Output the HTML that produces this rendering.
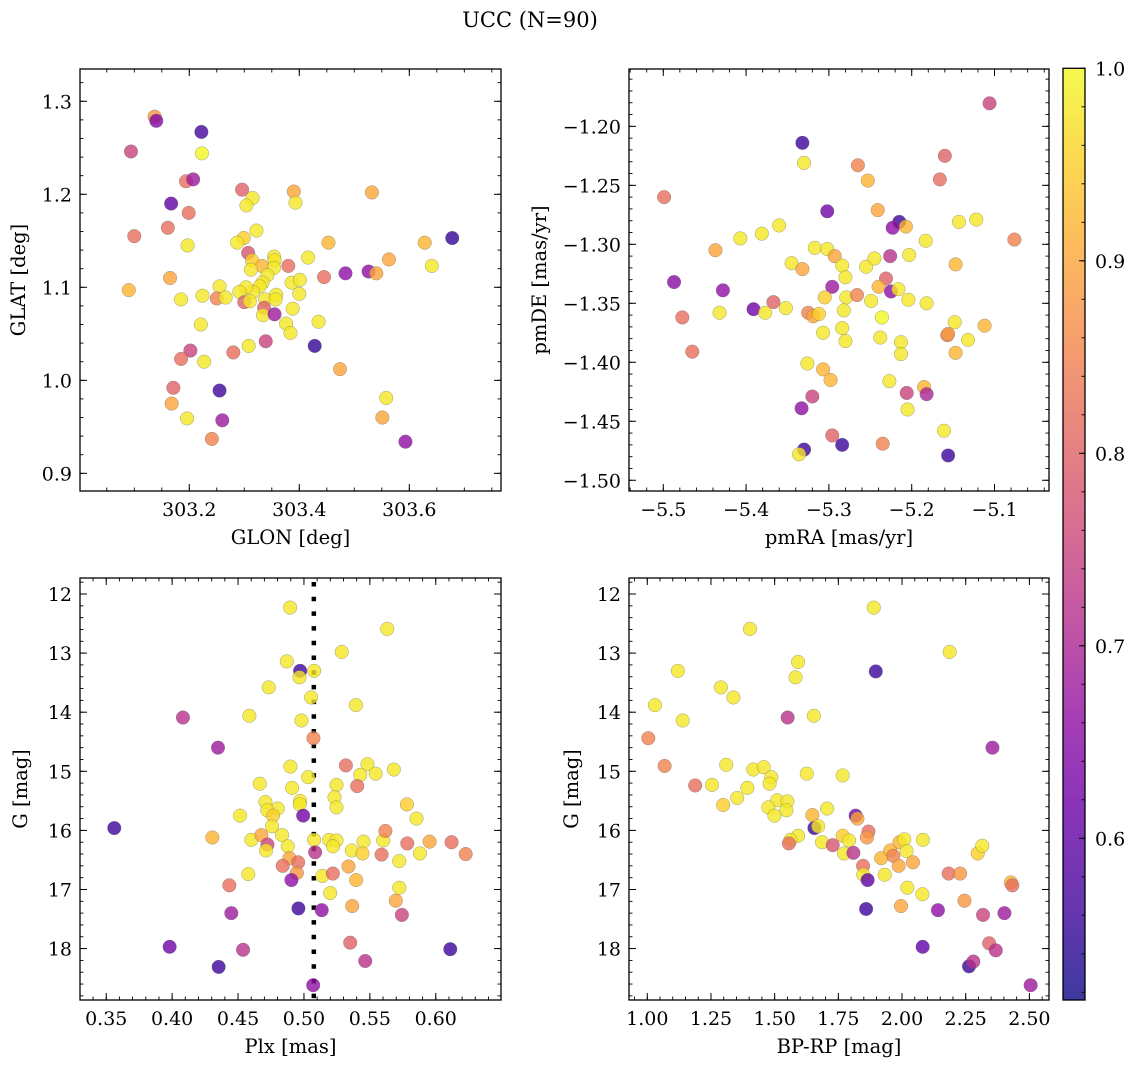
<!DOCTYPE html>
<html><head><meta charset="utf-8"><style>
html,body{margin:0;padding:0;background:#fff;}
svg{display:block;font-family:"DejaVu Serif","Liberation Serif",serif;}
</style></head><body>
<svg id="fig" width="1136" height="1068" viewBox="0 0 1136 1068" xmlns="http://www.w3.org/2000/svg">
<defs>
<linearGradient id="plasmaGrad" x1="0" y1="1" x2="0" y2="0"></linearGradient>
</defs>
<text x="530" y="27" font-size="21" text-anchor="middle">UCC (N=90)</text>
</svg>
<script>
// ---------- Panel 1 data: GLON vs GLAT ----------
const p1Glon=[303.137,303.140,303.094,303.222,303.223,303.194,303.207,303.167,303.199,303.161,
303.100,303.197,303.296,303.315,303.304,303.322,303.299,303.287,303.307,303.314,
303.332,303.312,303.354,303.355,303.354,303.342,303.333,303.328,303.316,303.303,
303.291,303.300,303.310,303.338,303.358,303.357,303.336,303.334,303.355,303.380,
303.416,303.386,303.401,303.400,303.388,303.376,303.384,303.435,303.390,303.393,
303.453,303.445,303.484,303.526,303.540,303.563,303.532,303.628,303.641,303.678,
303.428,303.474,303.558,303.551,303.593,303.090,303.165,303.185,303.224,303.255,
303.250,303.266,303.221,303.308,303.339,303.280,303.227,303.202,303.185,303.171,
303.168,303.196,303.255,303.260,303.241];
const p1Glat=[1.2835,1.279,1.246,1.267,1.244,1.214,1.216,1.190,1.180,1.164,
1.155,1.145,1.205,1.196,1.188,1.161,1.153,1.148,1.137,1.129,
1.123,1.119,1.133,1.129,1.121,1.113,1.105,1.101,1.095,1.100,
1.095,1.084,1.085,1.087,1.092,1.087,1.078,1.070,1.071,1.123,
1.132,1.105,1.108,1.093,1.077,1.061,1.051,1.063,1.203,1.191,
1.148,1.111,1.115,1.117,1.115,1.130,1.202,1.148,1.123,1.153,
1.037,1.012,0.981,0.960,0.934,1.097,1.110,1.087,1.091,1.101,
1.088,1.089,1.060,1.037,1.042,1.030,1.020,1.032,1.023,0.992,
0.975,0.959,0.989,0.957,0.937];
const p1Prob=[0.88,0.64,0.75,0.57,1.0,0.82,0.68,0.6,0.82,0.82,
0.82,0.98,0.8,0.98,0.98,0.98,0.95,0.98,0.78,0.95,
0.92,0.98,0.98,0.98,0.98,0.98,0.98,0.98,0.98,0.98,
0.98,0.8,0.98,0.98,0.98,0.98,0.8,0.98,0.68,0.82,
0.98,0.98,0.98,0.98,0.98,0.98,0.98,0.98,0.9,0.98,
0.92,0.82,0.66,0.66,0.9,0.9,0.9,0.92,0.98,0.55,
0.55,0.9,0.98,0.9,0.66,0.92,0.9,0.98,0.98,0.98,
0.85,0.98,0.98,0.98,0.75,0.82,0.98,0.75,0.82,0.8,
0.9,0.98,0.56,0.68,0.85];

// ---------- Panel 2 data: pmRA vs pmDE ----------
const p2PmRA=[-5.106,-5.332,-5.330,-5.265,-5.253,-5.160,-5.166,-5.499,-5.302,-5.241,
-5.215,-5.223,-5.207,-5.143,-5.122,-5.360,-5.381,-5.407,-5.437,-5.076,
-5.183,-5.317,-5.302,-5.293,-5.345,-5.332,-5.284,-5.280,-5.255,-5.245,
-5.226,-5.203,-5.147,-5.487,-5.428,-5.296,-5.231,-5.240,-5.225,-5.216,
-5.204,-5.182,-5.305,-5.279,-5.266,-5.249,-5.367,-5.391,-5.377,-5.352,
-5.432,-5.477,-5.325,-5.319,-5.312,-5.282,-5.236,-5.148,-5.112,-5.157,
-5.156,-5.132,-5.147,-5.307,-5.284,-5.280,-5.238,-5.213,-5.213,-5.465,
-5.326,-5.307,-5.298,-5.227,-5.185,-5.182,-5.206,-5.205,-5.320,-5.333,
-5.161,-5.296,-5.235,-5.284,-5.330,-5.336,-5.156];
const p2PmDE=[-1.1805,-1.214,-1.231,-1.233,-1.246,-1.225,-1.245,-1.260,-1.272,-1.271,
-1.281,-1.286,-1.285,-1.281,-1.279,-1.284,-1.291,-1.295,-1.305,-1.296,
-1.297,-1.303,-1.304,-1.310,-1.316,-1.321,-1.318,-1.328,-1.319,-1.312,
-1.310,-1.309,-1.317,-1.332,-1.339,-1.336,-1.329,-1.336,-1.340,-1.338,
-1.347,-1.350,-1.345,-1.345,-1.343,-1.348,-1.349,-1.355,-1.358,-1.354,
-1.358,-1.362,-1.358,-1.361,-1.359,-1.356,-1.362,-1.366,-1.369,-1.377,
-1.376,-1.381,-1.392,-1.375,-1.371,-1.382,-1.379,-1.383,-1.393,-1.391,
-1.401,-1.406,-1.415,-1.416,-1.421,-1.427,-1.426,-1.440,-1.429,-1.439,
-1.458,-1.462,-1.469,-1.470,-1.474,-1.478,-1.479];
const p2Prob=[0.75,0.56,0.98,0.85,0.92,0.8,0.82,0.82,0.62,0.9,
0.56,0.66,0.92,0.98,0.98,0.98,0.98,0.98,0.9,0.85,
0.98,0.98,0.98,0.9,0.98,0.9,0.98,0.98,0.98,0.98,
0.72,0.98,0.92,0.65,0.66,0.68,0.8,0.92,0.66,0.98,
0.98,0.98,0.95,0.98,0.85,0.98,0.8,0.62,0.98,0.98,
0.98,0.82,0.85,0.9,0.95,0.98,1.0,0.98,0.92,0.85,
0.88,0.98,0.92,0.98,0.98,0.98,0.98,0.98,0.98,0.82,
0.98,0.92,0.92,0.98,0.92,0.7,0.75,0.98,0.75,0.66,
0.98,0.8,0.85,0.56,0.56,0.98,0.56];

// ---------- Panel 3 data: Plx vs G ----------
const p3Plx=[0.4895,0.5632,0.5287,0.4870,0.4971,0.5077,0.4966,0.4733,0.5054,0.5394,
0.4586,0.4981,0.4082,0.5072,0.4348,0.4897,0.5318,0.5482,0.5427,0.5544,
0.5682,0.5032,0.4665,0.4910,0.5247,0.5404,0.5232,0.5247,0.4708,0.4801,
0.4722,0.4765,0.4971,0.4968,0.4994,0.4515,0.5781,0.5854,0.4758,0.3561,
0.4305,0.4601,0.4677,0.4834,0.4877,0.4723,0.4713,0.5077,0.5191,0.5247,
0.5220,0.5085,0.4890,0.4956,0.4839,0.4946,0.4905,0.4578,0.4434,0.5140,
0.5219,0.5338,0.5396,0.5199,0.5363,0.5452,0.5444,0.5601,0.5618,0.5589,
0.5723,0.5784,0.5880,0.5953,0.6120,0.6227,0.5723,0.5697,0.5743,0.5366,
0.4958,0.5135,0.4449,0.5351,0.5465,0.6110,0.3981,0.4538,0.4353,0.5070];
const p3G=[12.23,12.59,12.98,13.14,13.30,13.30,13.41,13.58,13.75,13.88,
14.06,14.14,14.09,14.44,14.60,14.92,14.90,14.88,15.06,15.04,
14.97,15.10,15.21,15.28,15.23,15.25,15.44,15.61,15.52,15.63,
15.66,15.75,15.50,15.56,15.75,15.75,15.56,15.80,15.93,15.96,
16.12,16.16,16.08,16.08,16.27,16.24,16.34,16.16,16.16,16.17,
16.27,16.37,16.47,16.54,16.60,16.72,16.84,16.74,16.93,16.77,
16.73,16.61,16.84,17.06,16.34,16.19,16.39,16.17,16.01,16.41,
16.52,16.22,16.39,16.19,16.20,16.40,16.97,17.19,17.43,17.28,
17.32,17.35,17.40,17.90,18.21,18.01,17.97,18.02,18.31,18.62];
const p3Prob=[0.98,0.98,0.98,0.98,0.56,0.98,0.98,0.98,0.98,0.98,
0.98,0.98,0.72,0.85,0.68,0.98,0.82,0.98,0.98,0.98,
0.98,0.98,0.98,0.98,0.98,0.82,0.98,0.98,0.98,0.98,
0.98,0.95,0.98,0.98,0.62,0.98,0.95,0.98,0.98,0.56,
0.92,0.98,0.9,0.98,0.98,0.75,0.98,0.98,0.98,0.98,
0.98,0.72,0.9,0.82,0.82,0.88,0.66,0.98,0.82,0.98,
0.82,0.9,0.92,0.98,0.98,0.98,0.95,0.98,0.85,0.82,
0.98,0.82,0.98,0.9,0.82,0.85,0.98,0.9,0.75,0.9,
0.56,0.66,0.68,0.8,0.72,0.56,0.62,0.72,0.56,0.66];
const p3Plx0=0.5075;

// ---------- Panel 4 data: BP-RP vs G ----------
const p4Col=[1.889,1.403,2.187,1.120,1.897,1.592,1.582,1.289,1.338,1.030,
1.139,1.551,1.654,1.004,2.355,1.068,1.310,1.416,1.457,1.487,
1.480,1.626,1.767,1.188,1.254,1.393,1.353,1.298,1.510,1.550,
1.475,1.546,1.499,1.706,1.648,1.656,1.671,1.818,1.825,1.592,
1.562,1.556,1.686,1.728,1.767,1.792,1.772,1.809,1.868,1.862,
1.847,1.848,1.865,1.918,1.932,1.954,1.966,1.987,1.990,2.009,
2.018,2.043,2.082,2.021,2.080,1.996,1.859,2.141,2.183,2.228,
2.245,2.318,2.402,2.297,2.315,2.427,2.433,2.081,2.342,2.368,
2.263,2.280,2.505];
const p4G=[12.23,12.59,12.98,13.30,13.31,13.15,13.41,13.58,13.75,13.88,
14.14,14.09,14.06,14.44,14.60,14.91,14.89,14.97,14.93,15.10,
15.21,15.04,15.07,15.24,15.23,15.28,15.45,15.57,15.49,15.51,
15.61,15.66,15.75,15.63,15.74,15.96,15.93,15.75,15.80,16.09,
16.16,16.22,16.20,16.25,16.09,16.17,16.39,16.38,16.02,16.12,
16.60,16.75,16.84,16.47,16.75,16.34,16.43,16.60,16.20,16.15,
16.35,16.54,16.16,16.97,17.08,17.28,17.33,17.35,16.73,16.73,
17.19,17.43,17.40,16.39,16.26,16.88,16.93,17.97,17.91,18.03,
18.30,18.22,18.62];
const p4Prob=[0.98,0.98,0.98,0.98,0.56,0.98,0.98,0.98,0.98,0.98,
0.98,0.72,0.98,0.85,0.68,0.85,0.98,0.98,0.98,0.98,
0.98,0.98,0.98,0.82,0.98,0.98,0.98,0.95,0.98,0.98,
0.98,0.98,0.98,0.98,0.92,0.56,0.98,0.62,0.9,0.98,
0.98,0.82,0.98,0.78,0.95,0.98,0.98,0.72,0.82,0.88,
0.82,0.98,0.6,0.92,0.98,0.92,0.85,0.9,0.92,0.98,
0.98,0.9,0.98,0.98,0.98,0.9,0.56,0.66,0.82,0.88,
0.88,0.75,0.68,0.95,0.98,0.92,0.82,0.6,0.8,0.72,
0.56,0.72,0.68];

// ---------- Tick labels ----------
const p1XTicks=[303.2,303.4,303.6], p1XLabels=["303.2","303.4","303.6"];
const p1YTicks=[0.9,1.0,1.1,1.2,1.3], p1YLabels=["0.9","1.0","1.1","1.2","1.3"];
const p2XTicks=[-5.5,-5.4,-5.3,-5.2,-5.1], p2XLabels=["\u22125.5","\u22125.4","\u22125.3","\u22125.2","\u22125.1"];
const p2YTicks=[-1.20,-1.25,-1.30,-1.35,-1.40,-1.45,-1.50], p2YLabels=["\u22121.20","\u22121.25","\u22121.30","\u22121.35","\u22121.40","\u22121.45","\u22121.50"];
const p3XTicks=[0.35,0.40,0.45,0.50,0.55,0.60], p3XLabels=["0.35","0.40","0.45","0.50","0.55","0.60"];
const gTicks=[12,13,14,15,16,17,18], gLabels=["12","13","14","15","16","17","18"];
const p4XTicks=[1.0,1.25,1.5,1.75,2.0,2.25,2.5], p4XLabels=["1.00","1.25","1.50","1.75","2.00","2.25","2.50"];
const cbTicks=[0.6,0.7,0.8,0.9,1.0], cbLabels=["0.6","0.7","0.8","0.9","1.0"];
const cbMin=0.516, cbMax=1.0;

const NS="http://www.w3.org/2000/svg";
const svg=document.getElementById('fig');
const TF=19, LF=19.5;
const plasma=[[13,8,135],[65,4,157],[106,0,168],[143,13,164],[177,42,144],[204,71,120],[225,100,98],[242,132,75],[252,166,54],[252,206,37],[240,249,33]];
function cmap(v){let t=(v-cbMin)/(cbMax-cbMin);t=Math.max(0,Math.min(1,t));const f=t*10;const i=Math.min(9,Math.floor(f));const r=f-i;const a=plasma[i],b=plasma[i+1];
return 'rgb('+Math.round(a[0]+(b[0]-a[0])*r)+','+Math.round(a[1]+(b[1]-a[1])*r)+','+Math.round(a[2]+(b[2]-a[2])*r)+')';}
function mk(tag,attrs,parent){const e=document.createElementNS(NS,tag);for(const k in attrs)e.setAttribute(k,attrs[k]);(parent||svg).appendChild(e);return e;}

function makePanel(cfg){
  const g=mk('g',{});
  
  
  const sx=v=>cfg.px+(v-cfg.xl)/(cfg.xr-cfg.xl)*cfg.w;
  const sy=v=>cfg.py+(v-cfg.yt)/(cfg.yb-cfg.yt)*cfg.h;
  const x1=cfg.px+cfg.w, y1=cfg.py+cfg.h;
  const lo=Math.min(cfg.xl,cfg.xr), hi=Math.max(cfg.xl,cfg.xr);
  for(let k=Math.ceil(lo/cfg.xm-1e-6);k*cfg.xm<=hi+1e-9;k++){const X=sx(k*cfg.xm);
    const t1=mk('line',{x1:X,x2:X,y1:y1,y2:y1-3.5,stroke:'#000','stroke-width':0.9},g);
    
    
    mk('line',{x1:X,x2:X,y1:cfg.py,y2:cfg.py+3.5,stroke:'#000','stroke-width':0.9},g);}
  const ylo=Math.min(cfg.yt,cfg.yb), yhi=Math.max(cfg.yt,cfg.yb);
  for(let k=Math.ceil(ylo/cfg.ym-1e-6);k*cfg.ym<=yhi+1e-9;k++){const Y=sy(k*cfg.ym);
    const t2=mk('line',{x1:cfg.px,x2:cfg.px+3.5,y1:Y,y2:Y,stroke:'#000','stroke-width':0.9},g);
    
    
    mk('line',{x1:x1,x2:x1-3.5,y1:Y,y2:Y,stroke:'#000','stroke-width':0.9},g);}
  cfg.xt.forEach((v,i)=>{const X=sx(v);
    const t=mk('line',{x1:X,x2:X,y1:y1,y2:y1-7,stroke:'#000','stroke-width':1},g);
    
    
    mk('line',{x1:X,x2:X,y1:cfg.py,y2:cfg.py+7,stroke:'#000','stroke-width':1},g);
    const tx=mk('text',{x:X,y:y1+25,'font-size':TF,'text-anchor':'middle'},g);tx.textContent=cfg.xlab[i];
    
    });
  cfg.yt2.forEach((v,i)=>{const Y=sy(v);
    const t=mk('line',{x1:cfg.px,x2:cfg.px+7,y1:Y,y2:Y,stroke:'#000','stroke-width':1},g);
    
    
    mk('line',{x1:x1,x2:x1-7,y1:Y,y2:Y,stroke:'#000','stroke-width':1},g);
    const tx=mk('text',{x:cfg.px-8,y:Y+7,'font-size':TF,'text-anchor':'end'},g);tx.textContent=cfg.ylab[i];
    
    });
  if(cfg.vline!==undefined){const X=sx(cfg.vline);
    const l=mk('line',{x1:X,x2:X,y1:cfg.py+4,y2:y1,stroke:'#000','stroke-width':4.5,'stroke-dasharray':'4.5 10.2'},g);
    
    }
  for(let i=0;i<Math.min(cfg.xs.length,cfg.ys.length,cfg.cs.length);i++){
    const c=mk('circle',{cx:sx(cfg.xs[i]),cy:sy(cfg.ys[i]),r:6.8,fill:cmap(cfg.cs[i]),'fill-opacity':0.8,stroke:'#666','stroke-opacity':0.6,'stroke-width':0.5},g);
    
    }
  const fr=mk('rect',{x:cfg.px,y:cfg.py,width:cfg.w,height:cfg.h,fill:'none',stroke:'#000','stroke-width':1.3},g);
  
  
  const xl=mk('text',{x:cfg.px+cfg.w/2,y:y1+53,'font-size':LF,'text-anchor':'middle'},g);xl.textContent=cfg.xtitle;
  
  
  const yl=mk('text',{x:0,y:0,'font-size':LF,'text-anchor':'middle',transform:'translate('+cfg.ylx+','+(cfg.py+cfg.h/2)+') rotate(-90)'},g);yl.textContent=cfg.ytitle;
  
  
}

makePanel({name:'glon-glat-panel',px:80,py:69,w:421,h:422,xl:303.0013,xr:303.7667,yt:1.3347,yb:0.881,xm:0.05,ym:0.02,
  xt:p1XTicks,xlab:p1XLabels,yt2:p1YTicks,ylab:p1YLabels,xs:p1Glon,ys:p1Glat,cs:p1Prob,xtitle:'GLON [deg]',ytitle:'GLAT [deg]',ylx:25});
makePanel({name:'pm-panel',px:629,py:69,w:420,h:422,xl:-5.5414,xr:-5.0342,yt:-1.1514,yb:-1.5091,xm:0.02,ym:0.01,
  xt:p2XTicks,xlab:p2XLabels,yt2:p2YTicks,ylab:p2YLabels,xs:p2PmRA,ys:p2PmDE,cs:p2Prob,xtitle:'pmRA [mas/yr]',ytitle:'pmDE [mas/yr]',ylx:546});
makePanel({name:'plx-g-panel',px:80,py:578,w:421,h:422,xl:0.3301,xr:0.6495,yt:11.729,yb:18.870,xm:0.01,ym:0.2,
  xt:p3XTicks,xlab:p3XLabels,yt2:gTicks,ylab:gLabels,xs:p3Plx,ys:p3G,cs:p3Prob,xtitle:'Plx [mas]',ytitle:'G [mag]',ylx:27,vline:p3Plx0});
makePanel({name:'cmd-panel',px:629,py:578,w:420,h:422,xl:0.9282,xr:2.577,yt:11.729,yb:18.870,xm:0.05,ym:0.2,
  xt:p4XTicks,xlab:p4XLabels,yt2:gTicks,ylab:gLabels,xs:p4Col,ys:p4G,cs:p4Prob,xtitle:'BP-RP [mag]',ytitle:'G [mag]',ylx:578});

// ---------- Colorbar ----------
const grad=document.getElementById('plasmaGrad');
plasma.forEach((c,i)=>{mk('stop',{offset:(i*10)+'%','stop-color':'rgb('+c.join(',')+')'},grad);});
const cb=mk('g',{});


const cbx=1063,cby=68.3,cbw=22,cbh=931.7;
const csy=v=>cby+(cbMax-v)/(cbMax-cbMin)*cbh;
mk('rect',{x:cbx,y:cby,width:cbw,height:cbh,fill:'url(#plasmaGrad)','fill-opacity':0.8},cb);
for(let k=Math.ceil(cbMin/0.02);k*0.02<=cbMax+1e-9;k++){const Y=csy(k*0.02);
  const t=mk('line',{x1:cbx+cbw,x2:cbx+cbw-3.5,y1:Y,y2:Y,stroke:'#000','stroke-width':0.9},cb);
  
  }
cbTicks.forEach((v,i)=>{const Y=csy(v);
  const t=mk('line',{x1:cbx+cbw,x2:cbx+cbw-6,y1:Y,y2:Y,stroke:'#000','stroke-width':1},cb);
  
  
  const tx=mk('text',{x:cbx+cbw+10,y:Y+7,'font-size':TF},cb);tx.textContent=cbLabels[i];
  
  });
const cbf=mk('rect',{x:cbx,y:cby,width:cbw,height:cbh,fill:'none',stroke:'#000','stroke-width':1.3},cb);


</script>
</body></html>
